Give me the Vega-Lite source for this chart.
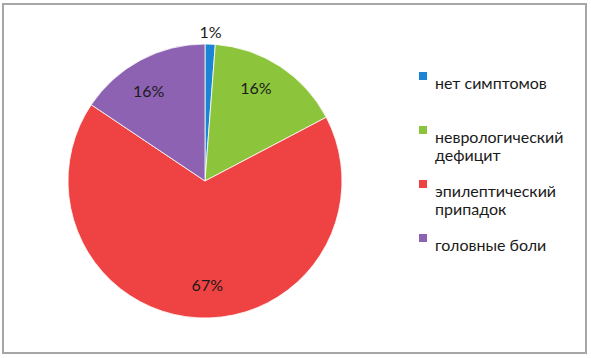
{
  "$schema": "https://vega.github.io/schema/vega-lite/v6.json",
  "autosize": {"type": "fit", "contains": "padding"},
  "width": 591,
  "height": 358,
  "padding": {"left": 3, "top": 4, "right": 5, "bottom": 5},
  "background": "white",
  "view": {"stroke": "#a6a6a6", "strokeWidth": 2, "fill": "white"},
  "config": {
    "view": {"stroke": "#a6a6a6", "strokeWidth": 2},
    "font": "Lato"
  },
  "data": {
    "values": [
      {"category": "нет симптомов\n ", "value": 1.2, "order": 1, "label": "1%"},
      {"category": "неврологический\nдефицит", "value": 16.1, "order": 2, "label": "16%"},
      {"category": "эпилептический\nприпадок", "value": 67.1, "order": 3, "label": "67%"},
      {"category": "головные боли\n ", "value": 15.6, "order": 4, "label": "16%"}
    ]
  },
  "encoding": {
    "theta": {"field": "value", "type": "quantitative", "stack": true},
    "order": {"field": "order", "type": "quantitative"}
  },
  "layer": [
    {
      "mark": {"type": "arc", "outerRadius": 137, "x": 202, "y": 177, "stroke": "#ffffff", "strokeWidth": 0.8},
      "encoding": {
        "color": {
          "field": "category",
          "type": "nominal",
          "sort": ["нет симптомов\n ", "неврологический\nдефицит", "эпилептический\nприпадок", "головные боли\n "],
          "scale": {
            "domain": ["нет симптомов\n ", "неврологический\nдефицит", "эпилептический\nприпадок", "головные боли\n "],
            "range": ["#1b84d4", "#8cc43c", "#ef4343", "#8e62b3"]
          },
          "legend": {
            "title": null,
            "orient": "none",
            "legendX": 412,
            "legendY": 64,
            "symbolType": "square",
            "symbolSize": 64,
            "symbolStrokeWidth": 0,
            "labelFontSize": 16,
            "labelFont": "Lato",
            "labelColor": "#1a1a1a",
            "labelLimit": 200,
            "labelOffset": 4,
            "rowPadding": 12,
            "labelExpr": "split(datum.label, '\\n')",
            "labelBaseline": "top",
            "encode": {"labels": {"update": {"dy": {"value": -10}, "lineHeight": {"value": 22}}}}
          }
        }
      }
    },
    {
      "transform": [{"filter": "datum.value >= 5"}],
      "mark": {"type": "text", "x": 202, "y": 177, "radius": 105, "fontSize": 16, "font": "Lato", "color": "#1a1a1a"},
      "encoding": {
        "text": {"field": "label"}
      }
    },
    {
      "transform": [{"filter": "datum.value < 5"}],
      "mark": {"type": "text", "x": 202, "y": 177, "radius": 148, "fontSize": 16, "font": "Lato", "color": "#1a1a1a"},
      "encoding": {
        "text": {"field": "label"}
      }
    }
  ]
}
